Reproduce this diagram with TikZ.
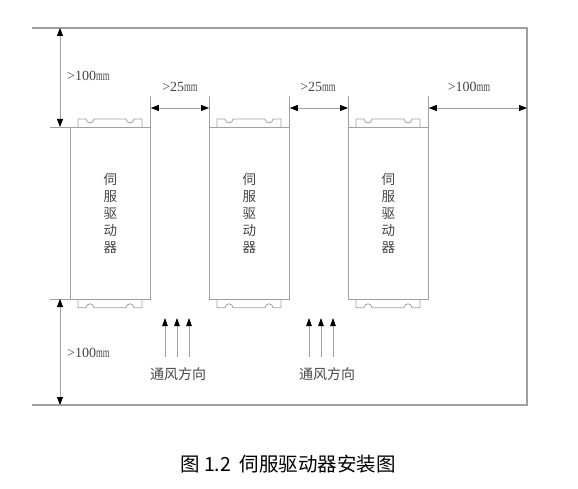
\documentclass[tikz,border=0pt]{standalone}
\usepackage{fontspec}
\setmainfont{Liberation Serif}
\newfontfamily\cjk{Noto Sans CJK SC}
\usetikzlibrary{arrows.meta}
\usetikzlibrary{positioning}
\usetikzlibrary{calc}
\definecolor{frame}{RGB}{160,160,160}
\definecolor{ink}{RGB}{70,70,70}
\newcommand{\narrowmm}{\scalebox{0.62}[1]{mm}}

\tikzset{
  wall/.style={draw=frame, line width=1.2pt},
  thin/.style={draw=frame, line width=0.8pt},
  drive/.style={thin, minimum width=80pt, minimum height=172pt, inner sep=0pt, anchor=north west,
    align=center, text=ink, font=\cjk\fontsize{13.5}{17}\selectfont},
  dimline/.style={thin, {Triangle[length=8pt,width=6pt,black]}-{Triangle[length=8pt,width=6pt,black]}},
  airflow/.style={thin, -{Triangle[length=8pt,width=5.5pt,black]}},
  dimtext/.style={text=ink, inner sep=0pt, font=\fontsize{14}{16}\selectfont},
  airtext/.style={text=ink, inner sep=0pt, font=\cjk\fontsize{14}{16}\selectfont}
}

\begin{document}
\begin{tikzpicture}[x=1pt, y=-1pt]
\useasboundingbox (0,0) rectangle (578,489);

% mounting space
\coordinate (tl) at (32,28);
\coordinate (tr) at (527,28);
\coordinate (br) at (527,405);
\coordinate (bl) at (32,405);
\draw[wall] (tl) -- (tr) -- (br) -- (bl);

% Drive 1
\node[drive] (d1) at (70,127) {伺\\服\\驱\\动\\器};
% Drive 2
\node[drive] (d2) at (209,127) {伺\\服\\驱\\动\\器};
% Drive 3
\node[drive] (d3) at (348,127) {伺\\服\\驱\\动\\器};

% mounting tabs
\foreach \d in {d1,d2,d3} {
  \draw[thin] ($(\d.north west)+(8,0)$) -- ++(0,-8) -- ++(8,0)
    arc[start angle=180, end angle=0, radius=4] -- ++(32,0)
    arc[start angle=180, end angle=0, radius=4] -- ++(8,0) -- ++(0,8);
  \draw[thin] ($(\d.south west)+(8,0)$) -- ++(0,8) -- ++(8,0)
    arc[start angle=180, end angle=360, radius=4] -- ++(32,0)
    arc[start angle=180, end angle=360, radius=4] -- ++(8,0) -- ++(0,-8);
}

% extension lines
\draw[thin] (d1.north west) -- ++(-20,0);
\draw[thin] (d1.south west) -- ++(-20,0);
\foreach \p in {d1.north east, d2.north west, d2.north east, d3.north west, d3.north east}
  \draw[thin] (\p) -- ++(0,-31);

% vertical clearances
\coordinate (v1) at (60,28);
\coordinate (v2) at (60,127);
\coordinate (v3) at (60,299);
\coordinate (v4) at (60,405);
\draw[dimline] (v1) -- (v2);
\draw[dimline] (v3) -- (v4);
\node[dimtext, anchor=west] (lt) at (67,76) {>100\narrowmm};
\node[dimtext, anchor=west] (lb) at (67,353) {>100\narrowmm};

% horizontal clearances
\coordinate (h1) at ($(d1.north east)+(0,-19)$);
\coordinate (h2) at ($(d2.north west)+(0,-19)$);
\coordinate (h3) at ($(d2.north east)+(0,-19)$);
\coordinate (h4) at ($(d3.north west)+(0,-19)$);
\coordinate (h5) at ($(d3.north east)+(0,-19)$);
\coordinate (h6) at (527,108);
\draw[dimline] (h1) -- (h2);
\draw[dimline] (h3) -- (h4);
\draw[dimline] (h5) -- (h6);
\node[dimtext] (g1) at (180,87) {>25\narrowmm};
\node[dimtext] (g2) at (318,87) {>25\narrowmm};
\node[dimtext] (g3) at (469,87) {>100\narrowmm};

% air flow 1
\foreach \x in {165,177,189}
  \draw[airflow] (\x,357) coordinate (a\x) -- (\x,318) coordinate (b\x);
\node[airtext] (f1) at (178,374) {通风方向};

% air flow 2
\foreach \x in {309,321,333}
  \draw[airflow] (\x,357) coordinate (a\x) -- (\x,318) coordinate (b\x);
\node[airtext] (f2) at (327,374) {通风方向};

% caption
\node[text=black, font=\cjk\fontsize{19.5}{22}\selectfont] (cap) at (288,464) {图 1.2\ \ 伺服驱动器安装图};

\end{tikzpicture}
\end{document}
